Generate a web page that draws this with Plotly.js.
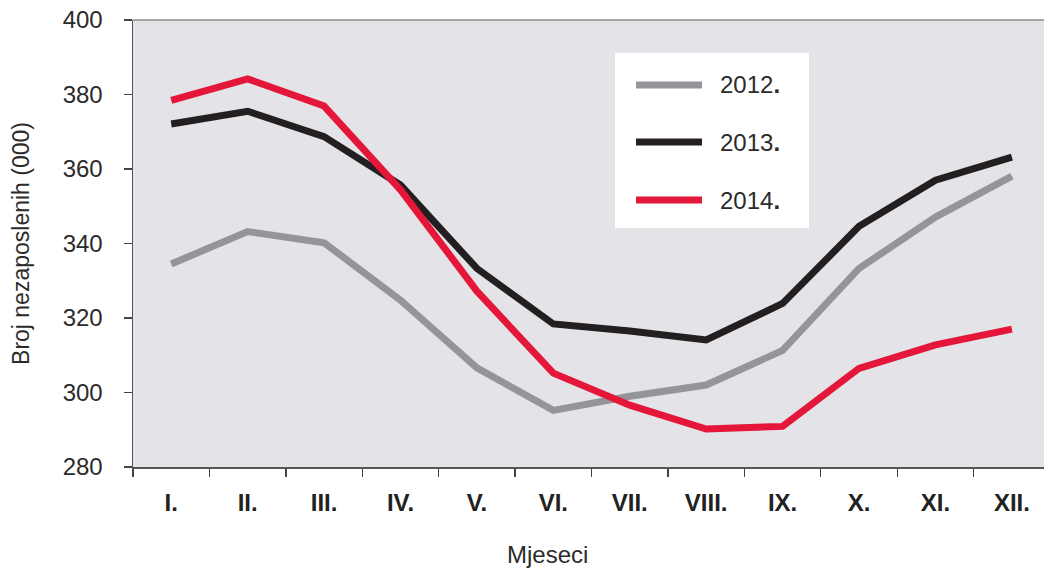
<!DOCTYPE html>
<html>
<head>
<meta charset="utf-8">
<script src="https://cdn.plot.ly/plotly-3.0.1.min.js"></script>
<style>html,body{margin:0;padding:0;background:#fff;}#chart{width:1044px;height:572px;}</style>
</head>
<body>
<div id="chart"></div>
<script>
const months = ['I.', 'II.', 'III.', 'IV.', 'V.', 'VI.', 'VII.', 'VIII.', 'IX.', 'X.', 'XI.', 'XII.'];
const seriesNames = ['2012.', '2013.', '2014.'];
const values2012 = [334.5, 343.2, 340.2, 324.8, 306.6, 295.2, 299.0, 302.0, 311.3, 333.3, 347.1, 358.1];
const values2013 = [372.1, 375.5, 368.7, 355.7, 333.3, 318.4, 316.5, 314.1, 323.9, 344.6, 357.0, 363.2];
const values2014 = [378.4, 384.2, 376.9, 354.4, 327.2, 305.2, 296.6, 290.2, 290.9, 306.5, 312.8, 317.0];
const yTicks = [280, 300, 320, 340, 360, 380, 400];

const colors = ['#939598', '#231f20', '#e4173a'];
const FONT = 'Liberation Sans, Arial, Helvetica, sans-serif';
const TXT = '#2b2b2b';

const allValues = [values2012, values2013, values2014];
const traces = allValues.map((vals, i) => ({
  type: 'scatter',
  mode: 'lines',
  x: months,
  y: vals,
  name: seriesNames[i],
  line: {color: colors[i], width: 7, shape: 'linear'},
  showlegend: false,
  hoverinfo: 'x+y+name'
}));

// plot-area pixel helpers (plot area: x 133..1044, y 20..467)
const px = x => (x - 133) / 911;
const py = y => (467 - y) / 447;

const shapes = [
  {type: 'line', xref: 'paper', yref: 'paper', x0: 0, x1: 1, y0: 1, y1: 1,
   line: {color: '#8c8c8c', width: 1.5}},
  {type: 'rect', xref: 'paper', yref: 'paper',
   x0: px(615), x1: px(809), y0: py(228), y1: py(53),
   fillcolor: '#ffffff', line: {width: 0}, layer: 'above'}
];
const legendY = [85, 142, 200];
const annotations = [];
seriesNames.forEach((nm, i) => {
  const yp = py(legendY[i]);
  shapes.push({type: 'line', xref: 'paper', yref: 'paper',
    x0: px(636), x1: px(702), y0: yp, y1: yp,
    line: {color: colors[i], width: 7}, layer: 'above'});
  annotations.push({xref: 'paper', yref: 'paper', x: px(718), y: yp,
    xanchor: 'left', yanchor: 'middle', showarrow: false,
    text: nm.replace('.', '<b>.</b>'),
    font: {family: FONT, size: 24, color: TXT}});
});
annotations.push({xref: 'paper', yref: 'paper', x: px(547), y: py(554),
  xanchor: 'center', yanchor: 'middle', showarrow: false, text: 'Mjeseci',
  font: {family: FONT, size: 24, color: TXT}});

const layout = {
  width: 1044, height: 572,
  margin: {l: 133, r: 0, t: 20, b: 105, pad: 0},
  paper_bgcolor: '#ffffff',
  plot_bgcolor: '#e4e4e8',
  font: {family: FONT, color: TXT},
  showlegend: false,
  xaxis: {
    type: 'category',
    categoryorder: 'array', categoryarray: months,
    range: [-0.5, 11.42],
    tickson: 'boundaries',
    ticks: 'outside', ticklen: 8, tickwidth: 1.3, tickcolor: '#444444',
    showline: true, linecolor: '#555555', linewidth: 1.5,
    showgrid: false, zeroline: false,
    tickfont: {family: FONT, size: 24, color: '#222222', weight: 'bold'},
    ticklabelstandoff: 14,
    fixedrange: true
  },
  yaxis: {
    range: [280, 400],
    tickmode: 'array', tickvals: yTicks, ticktext: yTicks.map(String),
    ticks: 'outside', ticklen: 8, tickwidth: 1.3, tickcolor: '#444444',
    showline: true, linecolor: '#555555', linewidth: 1.5,
    showgrid: false, zeroline: false,
    tickfont: {family: FONT, size: 24, color: TXT},
    ticklabelstandoff: 16,
    title: {text: 'Broj nezaposlenih (000)', font: {family: FONT, size: 23, color: TXT}, standoff: 26},
    fixedrange: true
  },
  shapes: shapes,
  annotations: annotations
};

Plotly.newPlot('chart', traces, layout, {displayModeBar: false, staticPlot: true});
</script>
</body>
</html>
